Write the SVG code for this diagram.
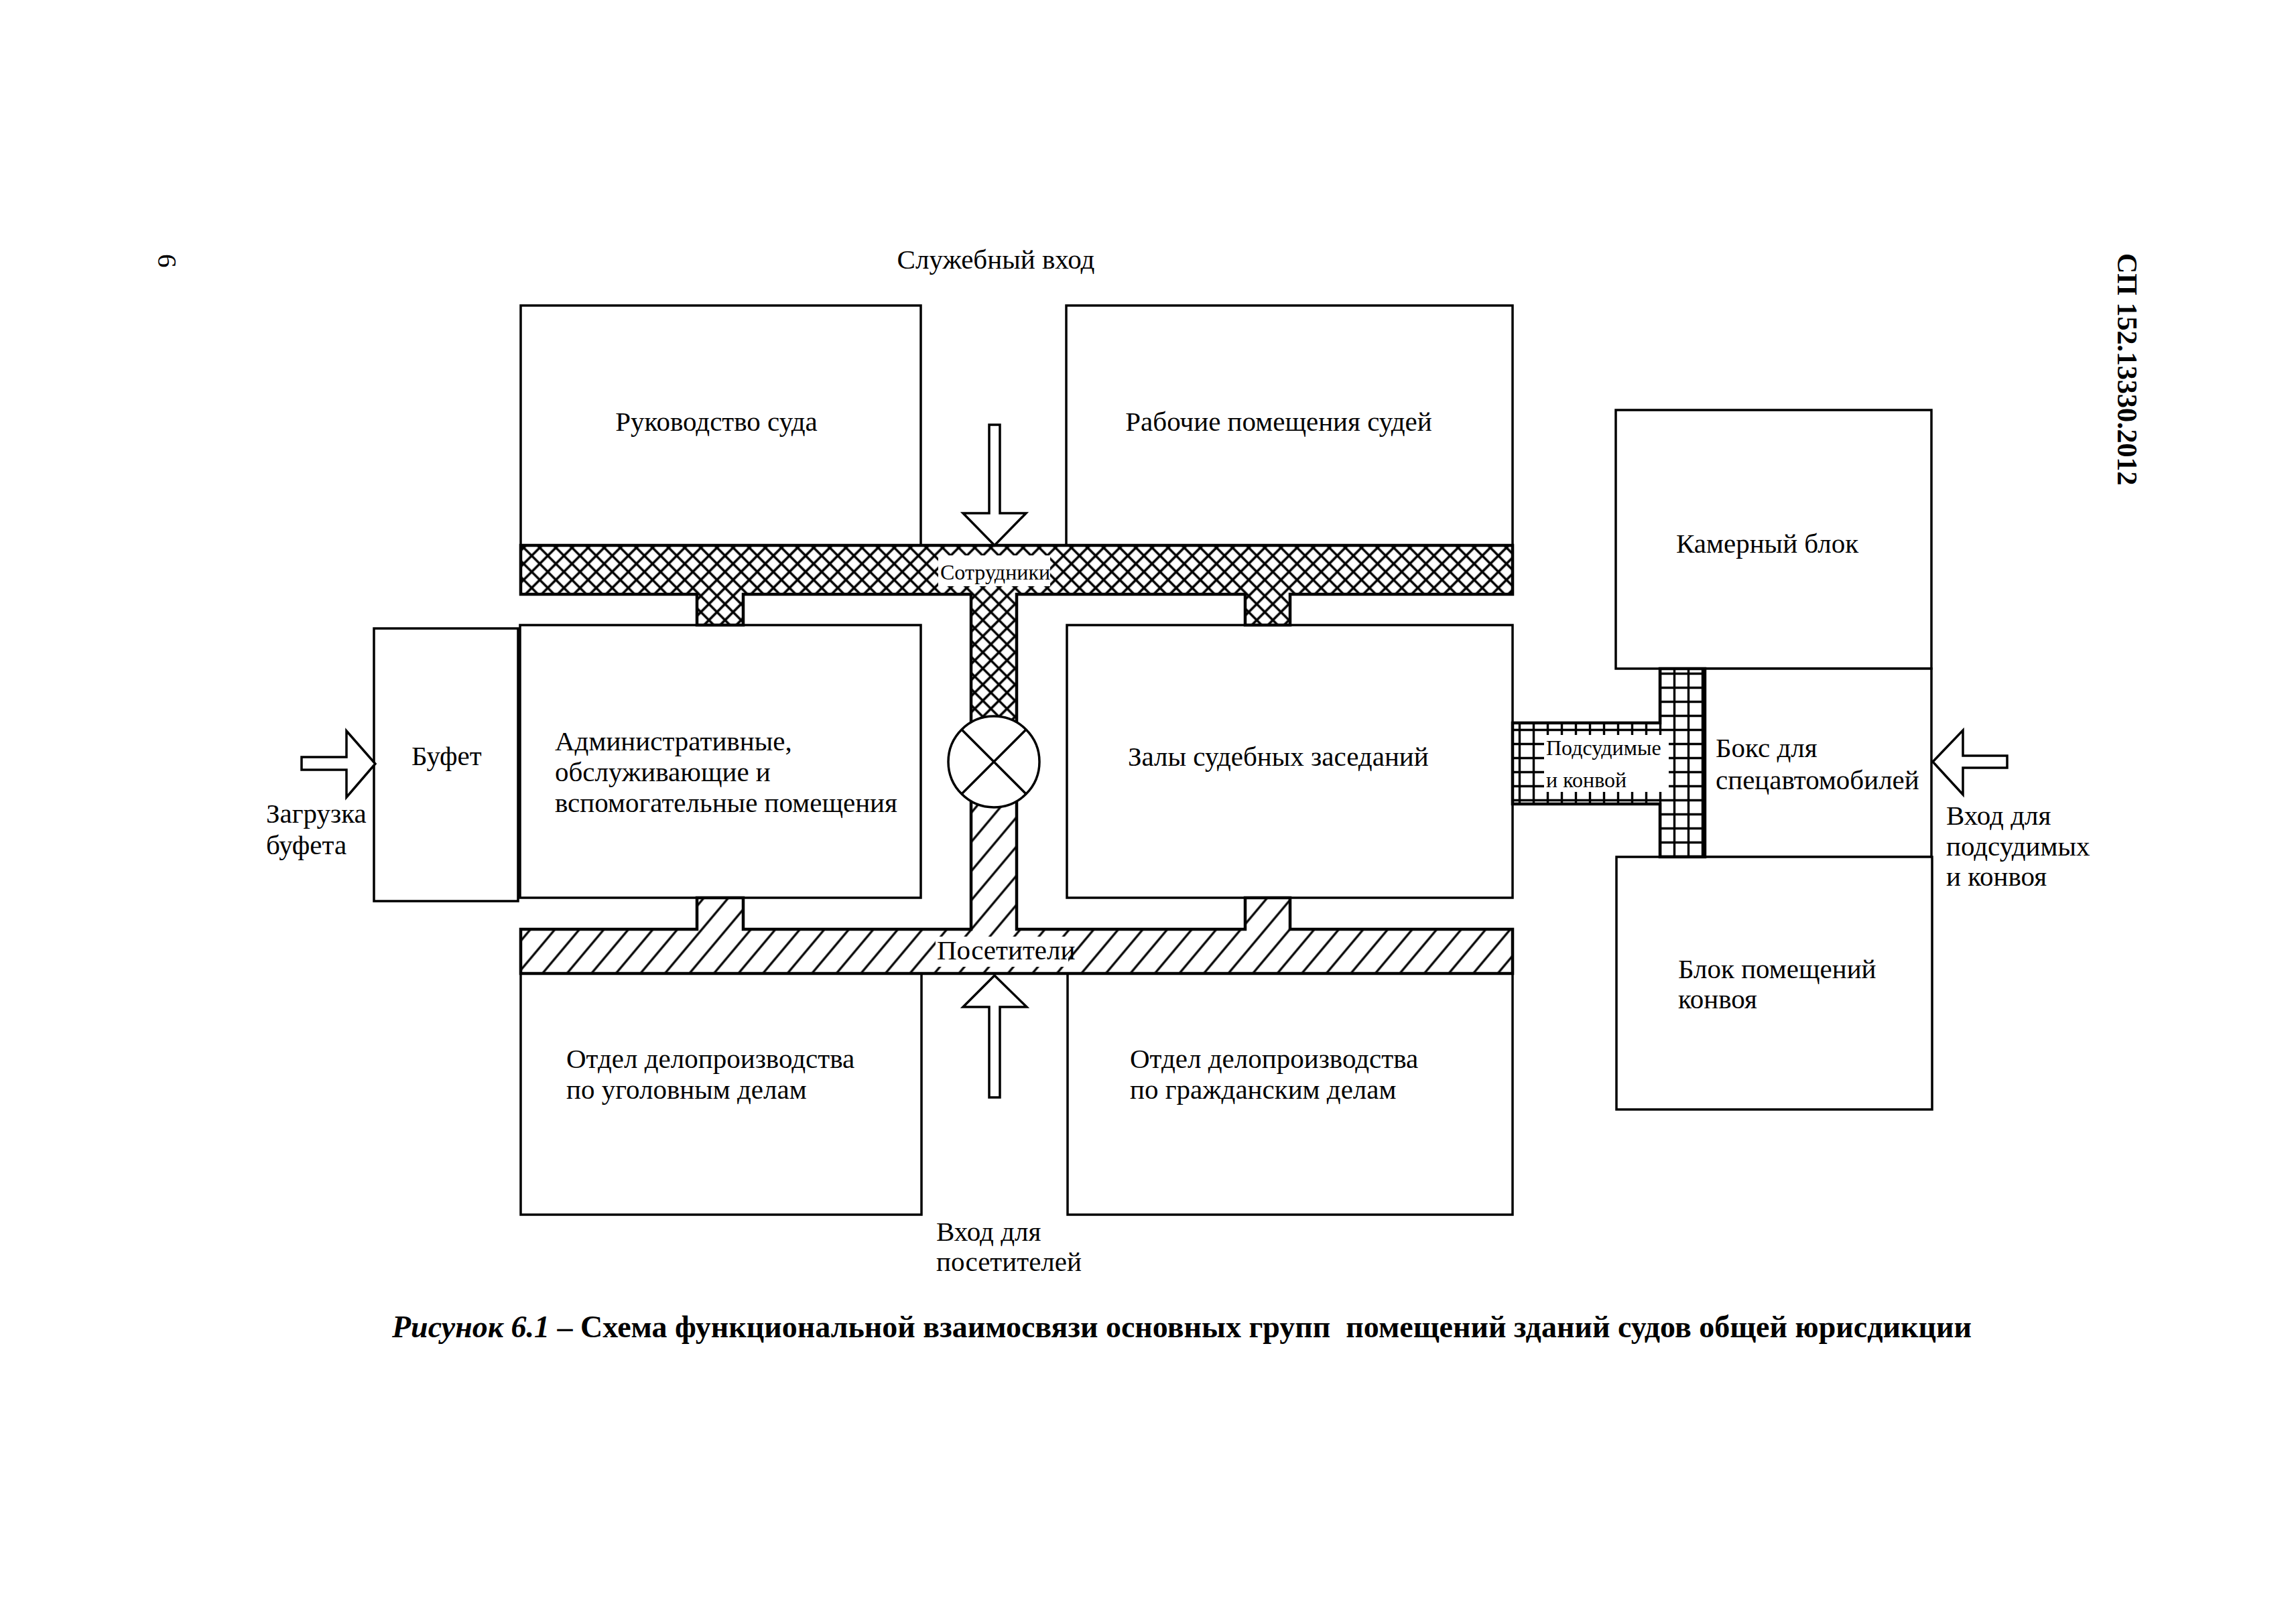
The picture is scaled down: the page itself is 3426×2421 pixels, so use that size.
<svg xmlns="http://www.w3.org/2000/svg" width="3426" height="2421" viewBox="0 0 3426 2421">
<defs>
<pattern id="cross" patternUnits="userSpaceOnUse" width="17" height="17" patternTransform="rotate(45)"><path d="M0,8.5 H17 M8.5,0 V17" stroke="#000" stroke-width="3.6" fill="none"/></pattern>
<pattern id="diag" patternUnits="userSpaceOnUse" width="28" height="28" patternTransform="rotate(-50)"><path d="M0,14 H28" stroke="#000" stroke-width="3.2" fill="none"/></pattern>
<pattern id="grid" patternUnits="userSpaceOnUse" x="2257" y="1079" width="21" height="21"><path d="M0,10.5 H21 M10.5,0 V21" stroke="#000" stroke-width="3.4" fill="none"/></pattern>
</defs>
<style>
.box{fill:#fff;stroke:#000;stroke-width:3.5}
.t{font-family:"Liberation Serif","Times New Roman",serif;font-size:41px;fill:#000}
.s{font-size:32px}
.arr{fill:#fff;stroke:#000;stroke-width:3.5;stroke-linejoin:miter}
.cor{stroke:#000;stroke-width:4.5;stroke-linejoin:miter}
.bg{fill:#fff;stroke:none}
.cap{font-family:"Liberation Serif","Times New Roman",serif;font-size:46px;font-weight:bold;fill:#000}
</style>
<rect width="3426" height="2421" fill="#fff"/>

<g id="header">
<text class="t" transform="translate(236,379) rotate(90)">6</text>
<text class="t" style="font-weight:bold;font-size:42px" transform="translate(3160,378) rotate(90)">СП 152.13330.2012</text>
</g>

<g id="node-rukovodstvo"><rect class="box" x="777" y="456" width="597" height="358"/><text class="t" x="1069" y="643" text-anchor="middle">Руководство суда</text></g>
<g id="node-sudi"><rect class="box" x="1591" y="456" width="666" height="358"/><text class="t" x="1908" y="643" text-anchor="middle">Рабочие помещения судей</text></g>
<g id="node-bufet"><rect class="box" x="558" y="938" width="215" height="407"/><text class="t" x="614" y="1142">Буфет</text></g>
<g id="node-admin"><rect class="box" x="776" y="933" width="598" height="407"/><text class="t" x="828"><tspan x="828" y="1120">Административные,</tspan><tspan x="828" y="1166">обслуживающие и</tspan><tspan x="828" y="1212">вспомогательные помещения</tspan></text></g>
<g id="node-zaly"><rect class="box" x="1592" y="933" width="665" height="407"/><text class="t" x="1683" y="1143">Залы судебных заседаний</text></g>
<g id="node-ugol"><rect class="box" x="777" y="1453" width="598" height="360"/><text class="t"><tspan x="845" y="1594">Отдел делопроизводства</tspan><tspan x="845" y="1640">по уголовным делам</tspan></text></g>
<g id="node-grazh"><rect class="box" x="1593" y="1453" width="664" height="360"/><text class="t"><tspan x="1686" y="1594">Отдел делопроизводства</tspan><tspan x="1686" y="1640">по гражданским делам</tspan></text></g>
<g id="node-kamera"><rect class="box" x="2411" y="612" width="471" height="386"/><text class="t" x="2501" y="825">Камерный блок</text></g>
<g id="node-boks"><rect class="box" x="2544" y="998" width="338" height="281"/><text class="t"><tspan x="2560" y="1130">Бокс для</tspan><tspan x="2560" y="1178">спецавтомобилей</tspan></text></g>
<g id="node-konvoy"><rect class="box" x="2412" y="1279" width="471" height="377"/><text class="t"><tspan x="2504" y="1460">Блок помещений</tspan><tspan x="2504" y="1505">конвоя</tspan></text></g>

<g id="connectors">
<path class="cor" fill="url(#cross)" d="M777,814 H2257 V887 H1925 V933 H1858 V887 H1517 V1137 H1449 V887 H1109 V933 H1040 V887 H777 Z"/>
<path class="cor" fill="url(#diag)" d="M777,1387 H1040 V1340 H1109 V1387 H1449 V1137 H1517 V1387 H1858 V1340 H1925 V1387 H2257 V1453 H777 Z"/>
<path class="cor" fill="url(#grid)" d="M2257,1079 H2477 V998 H2544 V1279 H2477 V1200 H2257 Z"/>
<g id="node-control">
<circle cx="1483" cy="1137" r="68" fill="#fff" stroke="#000" stroke-width="3.5"/>
<path d="M1435,1089 L1531,1185 M1531,1089 L1435,1185" stroke="#000" stroke-width="3.5"/>
</g>
<rect class="bg" x="1400" y="829" width="167" height="46"/>
<text class="t s" x="1403" y="865">Сотрудники</text>
<rect class="bg" x="1396" y="1398" width="198" height="45"/>
<text class="t" x="1398" y="1432">Посетители</text>
<rect class="bg" x="2304" y="1097" width="186" height="85"/>
<text class="t s"><tspan x="2307" y="1127">Подсудимые</tspan><tspan x="2307" y="1175">и конвой</tspan></text>
<polygon class="arr" points="1476,634 1492,634 1492,766 1531,766 1484,814 1437,766 1476,766"/>
<polygon class="arr" points="1484,1456 1532,1503 1492,1503 1492,1638 1476,1638 1476,1503 1437,1503"/>
<polygon class="arr" points="450,1130 517,1130 517,1091 560,1140 517,1190 517,1149 450,1149"/>
<polygon class="arr" points="2884,1137 2929,1090 2929,1128 2995,1128 2995,1146 2929,1146 2929,1186"/>
</g>

<g id="labels">
<text class="t" x="1486" y="401" text-anchor="middle">Служебный вход</text>
<text class="t"><tspan x="397" y="1228">Загрузка</tspan><tspan x="397" y="1275">буфета</tspan></text>
<text class="t"><tspan x="1397" y="1852">Вход для</tspan><tspan x="1397" y="1897">посетителей</tspan></text>
<text class="t"><tspan x="2904" y="1231">Вход для</tspan><tspan x="2904" y="1277">подсудимых</tspan><tspan x="2904" y="1322">и конвоя</tspan></text>
</g>

<g id="caption">
<text class="cap" x="585" y="1996" xml:space="preserve"><tspan font-style="italic">Рисунок 6.1</tspan> – Схема функциональной взаимосвязи основных групп  помещений зданий судов общей юрисдикции</text>
</g>
</svg>
